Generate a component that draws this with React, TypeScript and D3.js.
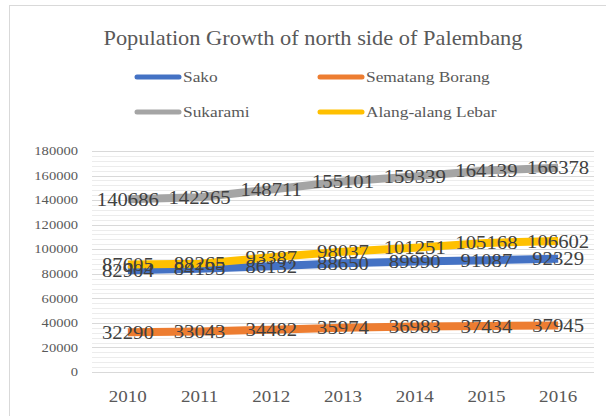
import * as d3 from "d3";
import React, { useEffect, useRef } from "react";

const years = ["2010", "2011", "2012", "2013", "2014", "2015", "2016"];
const sako = [82904, 84195, 86132, 88650, 89990, 91087, 92329];
const sematangBorang = [32290, 33043, 34482, 35974, 36983, 37434, 37945];
const sukarami = [140686, 142265, 148711, 155101, 159339, 164139, 166378];
const alangAlangLebar = [87605, 88265, 93387, 98037, 101251, 105168, 106602];
const yTicks = [0, 20000, 40000, 60000, 80000, 100000, 120000, 140000, 160000, 180000];

const series = [
  { name: "Sako", values: sako, color: "#4472C4" },
  { name: "Sematang Borang", values: sematangBorang, color: "#ED7D31" },
  { name: "Sukarami", values: sukarami, color: "#A5A5A5" },
  { name: "Alang-alang Lebar", values: alangAlangLebar, color: "#FFC000" },
];

const W = 606;
const H = 416;
const SX = 1.12; // the source text looks stretched sideways
const FONT = "'Liberation Serif', 'Times New Roman', serif";

export default function App() {
  const ref = useRef<SVGSVGElement>(null);

  useEffect(() => {
    const svg = d3.select(ref.current);
    svg.selectAll("*").remove();

    const x = d3.scaleBand<string>().domain(years).range([92, 594]);
    const y = d3.scaleLinear().domain([0, 180000]).range([372, 151]);
    const cx = (yr: string) => (x(yr) as number) + x.bandwidth() / 2;

    const text = (
      g: any,
      tx: number,
      ty: number,
      s: string,
      size: number,
      anchor = "middle",
      fill = "#595959"
    ) =>
      g
        .append("text")
        .attr("transform", `translate(${tx},${ty}) scale(${SX},1)`)
        .attr("text-anchor", anchor)
        .attr("dominant-baseline", "central")
        .attr("font-family", FONT)
        .attr("font-size", size)
        .attr("fill", fill)
        .text(s);

    // chart frame
    svg
      .append("rect")
      .attr("x", 9.5)
      .attr("y", 5.5)
      .attr("width", 620)
      .attr("height", 440)
      .attr("fill", "#fff")
      .attr("stroke", "#d9d9d9");

    text(svg, 313, 38, "Population Growth of north side of Palembang", 20);

    // legend
    const legendPos = [
      [135, 77],
      [318, 77],
      [135, 112],
      [318, 112],
    ];
    series.forEach((s, i) => {
      const [lx, ly] = legendPos[i];
      svg
        .append("line")
        .attr("x1", lx + 2)
        .attr("x2", lx + 44)
        .attr("y1", ly)
        .attr("y2", ly)
        .attr("stroke", s.color)
        .attr("stroke-width", 5)
        .attr("stroke-linecap", "round");
      text(svg, lx + 48, ly, s.name, 15.5, "start");
    });

    // gridlines: minor every 4000, major every 20000
    const minor = d3.range(0, 180001, 4000).filter((v) => v % 20000 !== 0);
    svg
      .append("g")
      .selectAll("line")
      .data(minor)
      .join("line")
      .attr("x1", 92)
      .attr("x2", 594)
      .attr("y1", (d) => Math.round(y(d)) + 0.5)
      .attr("y2", (d) => Math.round(y(d)) + 0.5)
      .attr("stroke", "#ececec");
    svg
      .append("g")
      .selectAll("line")
      .data(yTicks)
      .join("line")
      .attr("x1", 92)
      .attr("x2", 594)
      .attr("y1", (d) => Math.round(y(d)) + 0.5)
      .attr("y2", (d) => Math.round(y(d)) + 0.5)
      .attr("stroke", "#d9d9d9");

    const yAxis = svg.append("g");
    yTicks.forEach((t) => text(yAxis, 78, y(t), String(t), 13, "end"));
    const xAxis = svg.append("g");
    years.forEach((yr) => text(xAxis, cx(yr), 396, yr, 17));

    const line = d3
      .line<number>()
      .x((_, i) => cx(years[i]))
      .y((d) => y(d));

    series.forEach((s) => {
      svg
        .append("path")
        .attr("d", line(s.values))
        .attr("fill", "none")
        .attr("stroke", s.color)
        .attr("stroke-width", 8)
        .attr("stroke-linejoin", "round");
    });

    const labels = svg.append("g");
    series.forEach((s) => {
      s.values.forEach((v, i) =>
        text(labels, cx(years[i]), y(v), String(v), 18.5, "middle", "#404040")
      );
    });
  }, []);

  return <svg ref={ref} width={W} height={H} style={{ display: "block", position: "absolute", left: 0, top: 0 }} />;
}
